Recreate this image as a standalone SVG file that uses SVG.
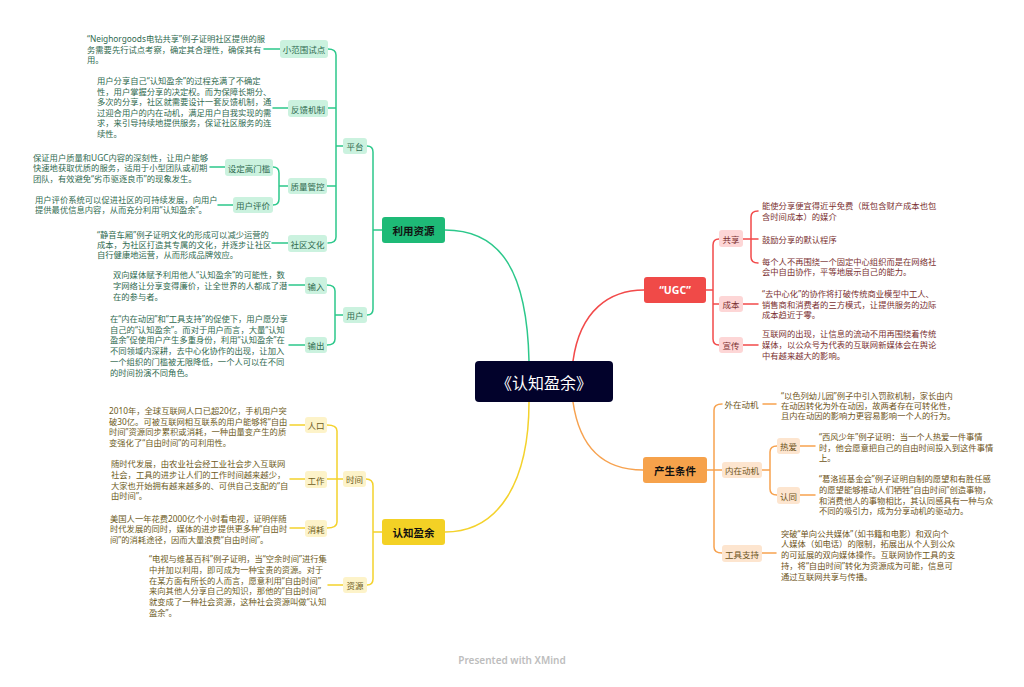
<svg xmlns="http://www.w3.org/2000/svg" width="1024" height="687" viewBox="0 0 1024 687">
<style>
text{font-family:"Noto Sans CJK SC","Noto Sans",sans-serif;dominant-baseline:central}
.d{font-size:8.3px;font-family:"Noto Sans","Noto Sans CJK SC",sans-serif}
.s{font-size:8.5px;text-anchor:middle}
.m{font-size:10.5px;font-weight:bold;text-anchor:middle}
.c{fill:none;stroke-width:1.5;stroke-linecap:round}
.g{stroke:#2cc88b}.y{stroke:#f4d22c}.r{stroke:#f24a4a}.o{stroke:#f7a24f}
.gt{fill:#2f6a4f}.yt{fill:#6e5c1c}.rt{fill:#7a3030}.ot{fill:#6e5420}
.gb{fill:#cbf2df}.yb{fill:#fdf3c9}.rb{fill:#fdd6d6}.ob{fill:#fde5cf}
</style>
<rect width="1024" height="687" fill="#ffffff"/>
<g id="connectors">
<path class="c g" d="M529,361 C527,270 500,230 445,230"/>
<path class="c g" d="M367,146 Q373,146 373,152 V309 Q373,315 367,315 M373,230 H382"/>
<path class="c g" d="M328,49 Q336,49 336,55 V237 Q336,243 328,243 M328,108 H336 M327,186 H336 M336,146 H343"/>
<path class="c g" d="M273,167 Q279,167 279,173 V199 Q279,205 273,205 M279,186 H288"/>
<path class="c g" d="M327,285 Q335,285 335,291 V339 Q335,345 327,345 M335,315 H343"/>
<path class="c g" d="M264,49 H280 M273,108 H288 M210,167 H225 M218,205 H233 M272,243 H288 M289,285 H305 M289,345 H305"/>
<path class="c y" d="M529,402 C529,480 500,532 445,532"/>
<path class="c y" d="M366,479 Q373,479 373,486 V579 Q373,585 367,585 M373,532 H382"/>
<path class="c y" d="M327,425 Q337,425 337,431 V522 Q337,528 327,528 M327,479 H343"/>
<path class="c y" d="M290,425 H305 M290,479 H305 M290,528 H305 M328,585 H343"/>
<path class="c r" d="M573,361 C580,310 610,290 644,290"/>
<path class="c r" d="M719,239 Q713,239 713,245 V339 Q713,345 719,345 M706,290 H713 M713,304 H719"/>
<path class="c r" d="M743,239 H758 M758,211 Q751,211 751,217 V257 Q751,263 758,263 M743,304 H758 M743,345 H758"/>
<path class="c o" d="M573,402 C580,450 605,470 643,470"/>
<path class="c o" d="M722,404 Q714,404 714,410 V547 Q714,553 722,553 M707,470 H722"/>
<path class="c o" d="M763,404 H776 M762,470 H770 M777,446 Q770,446 770,452 V489 Q770,495 777,495 M800,446 H815 M800,495 H815 M762,553 H776"/>
</g>
<g id="root">
<rect x="475" y="361" width="138" height="41" rx="4" fill="#02022b"/>
<text x="544" y="382" font-size="16" fill="#ffffff" text-anchor="middle">《认知盈余》</text>
</g>
<g id="n-liyong">
<rect x="382" y="217" width="63" height="26" rx="3" fill="#1eba77"/>
<text class="m" x="413.5" y="230" fill="#111">利用资源</text>
</g>
<g id="n-renzhi">
<rect x="382" y="519" width="63" height="26" rx="3" fill="#f3d125"/>
<text class="m" x="413.5" y="532" fill="#111">认知盈余</text>
</g>
<g id="n-ugc">
<rect x="644" y="277" width="62" height="26" rx="3" fill="#f04a48"/>
<text class="m" x="675" y="290" fill="#ffffff" font-weight="normal" style="font-family:'Noto Sans','Noto Sans CJK SC',sans-serif">“UGC”</text>
</g>
<g id="n-chansheng">
<rect x="643" y="457" width="64" height="26" rx="3" fill="#f6a24b"/>
<text class="m" x="675" y="470" fill="#111">产生条件</text>
</g>
<g id="n-pingtai"><rect class="gb" x="343" y="138" width="24" height="16" rx="3"/><text class="s gt" x="355" y="146">平台</text></g>
<g id="n-yonghu"><rect class="gb" x="343" y="307" width="24" height="16" rx="3"/><text class="s gt" x="355" y="315">用户</text></g>
<g id="n-xiaofanwei"><rect class="gb" x="280" y="40" width="48" height="18" rx="3"/><text class="s gt" x="304" y="49">小范围试点</text></g>
<g id="n-fankui"><rect class="gb" x="288" y="100" width="40" height="17" rx="3"/><text class="s gt" x="308" y="108.5">反馈机制</text></g>
<g id="n-zhiliang"><rect class="gb" x="288" y="178" width="39" height="16" rx="3"/><text class="s gt" x="307.5" y="186">质量管控</text></g>
<g id="n-shequ"><rect class="gb" x="288" y="235" width="39" height="17" rx="3"/><text class="s gt" x="307.5" y="243.5">社区文化</text></g>
<g id="n-gaomenkan"><rect class="gb" x="225" y="159" width="48" height="17" rx="3"/><text class="s gt" x="249" y="167.5">设定高门槛</text></g>
<g id="n-pingjia"><rect class="gb" x="233" y="197" width="40" height="16" rx="3"/><text class="s gt" x="253" y="205">用户评价</text></g>
<g id="n-shuru"><rect class="gb" x="305" y="277" width="22" height="17" rx="3"/><text class="s gt" x="316" y="285.5">输入</text></g>
<g id="n-shuchu"><rect class="gb" x="305" y="337" width="22" height="16" rx="3"/><text class="s gt" x="316" y="345">输出</text></g>
<g id="n-shijian"><rect class="yb" x="343" y="471" width="23" height="16" rx="3"/><text class="s yt" x="354.5" y="479">时间</text></g>
<g id="n-ziyuan"><rect class="yb" x="343" y="577" width="24" height="16" rx="3"/><text class="s yt" x="355" y="585">资源</text></g>
<g id="n-renkou"><rect class="yb" x="305" y="417" width="22" height="16" rx="3"/><text class="s yt" x="316" y="425">人口</text></g>
<g id="n-gongzuo"><rect class="yb" x="305" y="471" width="22" height="17" rx="3"/><text class="s yt" x="316" y="479.5">工作</text></g>
<g id="n-xiaohao"><rect class="yb" x="305" y="520" width="22" height="17" rx="3"/><text class="s yt" x="316" y="528.5">消耗</text></g>
<g id="n-gongxiang"><rect class="rb" x="719" y="230" width="24" height="17" rx="3"/><text class="s rt" x="731" y="238.5">共享</text></g>
<g id="n-chengben"><rect class="rb" x="719" y="296" width="24" height="16" rx="3"/><text class="s rt" x="731" y="304">成本</text></g>
<g id="n-xuanchuan"><rect class="rb" x="719" y="337" width="24" height="16" rx="3"/><text class="s rt" x="731" y="345">宣传</text></g>
<g id="n-waizai"><text class="s ot" x="741.5" y="404">外在动机</text></g>
<g id="n-neizai"><rect class="ob" x="722" y="462" width="40" height="16" rx="3"/><text class="s ot" x="742" y="470">内在动机</text></g>
<g id="n-gongju"><rect class="ob" x="722" y="545" width="40" height="17" rx="3"/><text class="s ot" x="742" y="553.5">工具支持</text></g>
<g id="n-reai"><rect class="ob" x="777" y="438" width="23" height="16" rx="3"/><text class="s ot" x="788.5" y="446">热爱</text></g>
<g id="n-rentong"><rect class="ob" x="777" y="487" width="23" height="17" rx="3"/><text class="s ot" x="788.5" y="495.5">认同</text></g>
<g id="texts-green">
<text class="d gt"><tspan x="87" y="38.3">“Neighorgoods电钻共享”例子证明社区提供的服</tspan><tspan x="87" y="48.6">务需要先行试点考察，确定其合理性，确保其有</tspan><tspan x="87" y="58.9">用。</tspan></text>
<text class="d gt"><tspan x="97" y="80">用户分享自己“认知盈余”的过程充满了不确定</tspan><tspan x="97" y="90.6">性，用户掌握分享的决定权。而为保障长期分、</tspan><tspan x="97" y="101.2">多次的分享，社区就需要设计一套反馈机制，通</tspan><tspan x="97" y="111.8">过迎合用户的内在动机，满足用户自我实现的需</tspan><tspan x="97" y="122.4">求，来引导持续地提供服务，保证社区服务的连</tspan><tspan x="97" y="133">续性。</tspan></text>
<text class="d gt"><tspan x="33" y="156.7">保证用户质量和UGC内容的深刻性，让用户能够</tspan><tspan x="33" y="167.3">快速地获取优质的服务，适用于小型团队或初期</tspan><tspan x="33" y="177.9">团队，有效避免“劣币驱逐良币”的现象发生。</tspan></text>
<text class="d gt"><tspan x="35" y="199">用户评价系统可以促进社区的可持续发展，向用户</tspan><tspan x="35" y="209.4">提供最优信息内容，从而充分利用“认知盈余”。</tspan></text>
<text class="d gt"><tspan x="97" y="233.6">“静音车厢”例子证明文化的形成可以减少运营的</tspan><tspan x="97" y="244">成本，为社区打造其专属的文化，并逐步让社区</tspan><tspan x="97" y="254.4">自行健康地运营，从而形成品牌效应。</tspan></text>
<text class="d gt"><tspan x="113" y="274">双向媒体赋予利用他人“认知盈余”的可能性，数</tspan><tspan x="113" y="284.8">字网络让分享变得廉价，让全世界的人都成了潜</tspan><tspan x="113" y="295.6">在的参与者。</tspan></text>
<text class="d gt"><tspan x="110" y="318">在“内在动因”和“工具支持”的促使下，用户愿分享</tspan><tspan x="110" y="328.7">自己的“认知盈余”。而对于用户而言，大量“认知</tspan><tspan x="110" y="339.4">盈余”促使用户产生多重身份，利用“认知盈余”在</tspan><tspan x="110" y="350.1">不同领域内深耕，去中心化协作的出现，让加入</tspan><tspan x="110" y="360.8">一个组织的门槛被无限降低，一个人可以在不同</tspan><tspan x="110" y="371.5">的时间扮演不同角色。</tspan></text>
</g>
<g id="texts-yellow">
<text class="d yt"><tspan x="109" y="410">2010年，全球互联网人口已超20亿，手机用户突</tspan><tspan x="109" y="420.7">破30亿。可被互联网相互联系的用户能够将“自由</tspan><tspan x="109" y="431.4">时间”资源同步累积或消耗，一种由量变产生的质</tspan><tspan x="109" y="442.1">变强化了“自由时间”的可利用性。</tspan></text>
<text class="d yt"><tspan x="111" y="463.3">随时代发展，由农业社会经工业社会步入互联网</tspan><tspan x="111" y="474">社会，工具的进步让人们的工作时间越来越少，</tspan><tspan x="111" y="484.7">大家也开始拥有越来越多的、可供自己支配的“自</tspan><tspan x="111" y="495.4">由时间”。</tspan></text>
<text class="d yt"><tspan x="110" y="517.7">美国人一年花费2000亿个小时看电视，证明伴随</tspan><tspan x="110" y="528.4">时代发展的同时，媒体的进步提供更多种“自由时</tspan><tspan x="110" y="539.1">间”的消耗途径，因而大量浪费“自由时间”。</tspan></text>
<text class="d yt"><tspan x="149" y="558.3">“电视与维基百科”例子证明，当“空余时间”进行集</tspan><tspan x="149" y="569">中并加以利用，即可成为一种宝贵的资源。对于</tspan><tspan x="149" y="579.7">在某方面有所长的人而言，愿意利用“自由时间”</tspan><tspan x="149" y="590.4">来向其他人分享自己的知识，那他的“自由时间”</tspan><tspan x="149" y="601.1">就变成了一种社会资源，这种社会资源叫做“认知</tspan><tspan x="149" y="611.8">盈余”。</tspan></text>
</g>
<g id="texts-red">
<text class="d rt"><tspan x="762" y="205">能使分享便宜得近乎免费（既包含财产成本也包</tspan><tspan x="762" y="215.7">含时间成本）的媒介</tspan></text>
<text class="d rt"><tspan x="762" y="238.5">鼓励分享的默认程序</tspan></text>
<text class="d rt"><tspan x="762" y="260.7">每个人不再围绕一个固定中心组织而是在网络社</tspan><tspan x="762" y="271.4">会中自由协作，平等地展示自己的能力。</tspan></text>
<text class="d rt"><tspan x="762" y="293.3">“去中心化”的协作将打破传统商业模型中工人、</tspan><tspan x="762" y="303.5">销售商和消费者的三方模式，让提供服务的边际</tspan><tspan x="762" y="313.7">成本趋近于零。</tspan></text>
<text class="d rt"><tspan x="762" y="333.3">互联网的出现，让信息的流动不用再围绕着传统</tspan><tspan x="762" y="344">媒体，以公众号为代表的互联网新媒体会在舆论</tspan><tspan x="762" y="354.7">中有越来越大的影响。</tspan></text>
</g>
<g id="texts-orange">
<text class="d ot"><tspan x="781" y="395">“以色列幼儿园”例子中引入罚款机制，家长由内</tspan><tspan x="781" y="405">在动因转化为外在动因，故两者存在可转化性，</tspan><tspan x="781" y="415">且内在动因的影响力更容易影响一个人的行为。</tspan></text>
<text class="d ot"><tspan x="819" y="436">“西风少年”例子证明：当一个人热爱一件事情</tspan><tspan x="819" y="446.7">时，他会愿意把自己的自由时间投入到这件事情</tspan><tspan x="819" y="457.4">上。</tspan></text>
<text class="d ot"><tspan x="819" y="478.3">“葛洛班基金会”例子证明自制的愿望和有胜任感</tspan><tspan x="819" y="489">的愿望能够推动人们牺牲“自由时间”创造事物，</tspan><tspan x="819" y="499.7">和消费他人的事物相比，其认同感具有一种与众</tspan><tspan x="819" y="510.4">不同的吸引力，成为分享动机的驱动力。</tspan></text>
<text class="d ot"><tspan x="781" y="532.7">突破“单向公共媒体”（如书籍和电影）和双向个</tspan><tspan x="781" y="543.4">人媒体（如电话）的限制，拓展出从个人到公众</tspan><tspan x="781" y="554.1">的可延展的双向媒体操作。互联网协作工具的支</tspan><tspan x="781" y="564.8">持，将“自由时间”转化为资源成为可能，信息可</tspan><tspan x="781" y="575.5">通过互联网共享与传播。</tspan></text>
</g>
<text x="512" y="660" font-size="10" font-weight="600" fill="#bdbdbd" text-anchor="middle" style="font-family:'Noto Sans',sans-serif">Presented with XMind</text>
</svg>
